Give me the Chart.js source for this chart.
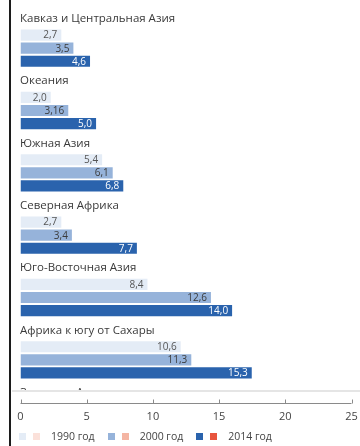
<!DOCTYPE html>
<html>
<head>
<meta charset="utf-8">
<script src="https://cdn.jsdelivr.net/npm/chart.js@4/dist/chart.umd.min.js"></script>
<style>
  html, body { margin: 0; padding: 0; background: #fff; }
  #wrap { position: relative; width: 360px; height: 446px; overflow: hidden; }
  #c { position: absolute; left: 0; top: 0; }
  #leftRule { position: absolute; left: 9px; top: 0; width: 2px; height: 446px; background: #1c1c1c; }
  #legend { position: absolute; left: 19px; top: 429px; display: flex; align-items: center;
            font-family: "Open Sans", sans-serif; font-size: 10.5px; color: #444; }
  .item { display: flex; align-items: center; margin-right: 13px; }
  .box { width: 7px; height: 7px; margin-right: 7px; }
  .item span { margin-left: 4px; }
</style>
</head>
<body>
<div id="wrap">
  <canvas id="c" width="360" height="446"></canvas>
  <div id="leftRule"></div>
  <div id="legend"></div>
</div>
<script>
// ---- data ----
const categories = [
  "Кавказ и Центральная Азия",
  "Океания",
  "Южная Азия",
  "Северная Африка",
  "Юго-Восточная Азия",
  "Африка к югу от Сахары"
];
const partialCategory = "Западная Азия";
const seriesNames = ["1990 год", "2000 год", "2014 год"];
const values1990 = [2.7, 2.0, 5.4, 2.7, 8.4, 10.6];
const values2000 = [3.5, 3.16, 6.1, 3.4, 12.6, 11.3];
const values2014 = [4.6, 5.0, 6.8, 7.7, 14.0, 15.3];
const axisTicks = [0, 5, 10, 15, 20, 25];
// bars in the source artwork are drawn on their own (stretched) scale
const barScaleMax = 21.9;

// ---- styles ----
const blueColors = ["#e4ecf6", "#96b3da", "#2a63ad"];
const redColors = ["#fbe1da", "#f4b5a3", "#e8553e"];
const valueTextColors = ["#555555", "#3a3a3a", "#ffffff"];

function fmt(v) {
  const dec = Math.max(1, (String(v).split('.')[1] || '').length);
  return v.toFixed(dec).replace('.', ',');
}

const seriesValues = [values1990, values2000, values2014];
const datasets = seriesValues.map((vals, i) => ({
  label: seriesNames[i],
  data: vals,
  backgroundColor: blueColors[i],
  borderWidth: 0,
  xAxisID: 'xb',
  categoryPercentage: 0.63,
  barPercentage: 0.85
}));

const decoPlugin = {
  id: 'deco',
  afterDatasetsDraw(chart) {
    const ctx = chart.ctx;
    const ys = chart.scales.y;
    const xs = chart.scales.x;
    const ca = chart.chartArea;
    ctx.save();
    // value labels
    ctx.font = '10px "Open Sans", sans-serif';
    ctx.textAlign = 'right';
    ctx.textBaseline = 'middle';
    chart.data.datasets.forEach((ds, di) => {
      const meta = chart.getDatasetMeta(di);
      meta.data.forEach((bar, i) => {
        ctx.fillStyle = valueTextColors[di];
        ctx.fillText(fmt(ds.data[i]), bar.x - 4, bar.y + 0.5);
      });
    });
    // category labels
    ctx.font = '11.5px "Open Sans", sans-serif';
    ctx.textAlign = 'left';
    ctx.fillStyle = '#3a3a3a';
    const pitch = ys.getPixelForValue(1) - ys.getPixelForValue(0);
    categories.forEach((c, i) => {
      ctx.fillText(c, ca.left - 0.5, ys.getPixelForValue(i) - 29.5);
    });
    // partially hidden next category
    ctx.save();
    ctx.beginPath();
    ctx.rect(0, 0, chart.width, ca.bottom - 1);
    ctx.clip();
    ctx.fillText(partialCategory, ca.left - 0.5, ys.getPixelForValue(categories.length - 1) + pitch - 29.5);
    ctx.restore();
    // separator line
    ctx.strokeStyle = '#dcdcdc';
    ctx.lineWidth = 1.5;
    ctx.beginPath();
    ctx.moveTo(12, ca.bottom);
    ctx.lineTo(chart.width, ca.bottom);
    ctx.stroke();
    // axis line with upward ticks
    const axisY = ca.bottom + 12.5;
    ctx.strokeStyle = '#8a8a8a';
    ctx.lineWidth = 1;
    ctx.beginPath();
    ctx.moveTo(xs.getPixelForValue(axisTicks[0]), axisY);
    ctx.lineTo(xs.getPixelForValue(axisTicks[axisTicks.length - 1]), axisY);
    axisTicks.forEach(t => {
      const px = Math.round(xs.getPixelForValue(t)) + 0.5;
      ctx.moveTo(px, axisY);
      ctx.lineTo(px, axisY - 4);
    });
    ctx.stroke();
    ctx.restore();
  }
};

new Chart(document.getElementById('c'), {
  type: 'bar',
  data: { labels: categories, datasets },
  options: {
    indexAxis: 'y',
    responsive: false,
    animation: false,
    layout: { padding: { left: 20.5, right: 8.5, top: 17, bottom: 23 } },
    plugins: { legend: { display: false }, tooltip: { enabled: false } },
    scales: {
      y: { display: false },
      xb: { display: false, min: 0, max: barScaleMax, position: 'top' },
      x: {
        position: 'bottom',
        min: axisTicks[0],
        max: axisTicks[axisTicks.length - 1],
        afterBuildTicks(scale) { scale.ticks = axisTicks.map(v => ({ value: v })); },
        afterFit(scale) {
          scale.height = 32;
          scale.paddingLeft = 0;
          scale.paddingRight = 0;
        },
        grid: { display: true, drawOnChartArea: false, drawTicks: true, tickLength: 18, color: 'rgba(0,0,0,0)' },
        border: { display: false },
        ticks: {
          padding: 1,
          color: '#444',
          font: { family: '"Open Sans", sans-serif', size: 11 },
          maxRotation: 0
        }
      }
    }
  },
  plugins: [decoPlugin]
});

// legend (two swatches per year, as in the source)
const legend = document.getElementById('legend');
seriesNames.forEach((name, i) => {
  const item = document.createElement('div');
  item.className = 'item';
  const b1 = document.createElement('div');
  b1.className = 'box'; b1.style.background = blueColors[i];
  const b2 = document.createElement('div');
  b2.className = 'box'; b2.style.background = redColors[i];
  const t = document.createElement('span');
  t.textContent = name;
  item.appendChild(b1); item.appendChild(b2); item.appendChild(t);
  legend.appendChild(item);
});
</script>
</body>
</html>
